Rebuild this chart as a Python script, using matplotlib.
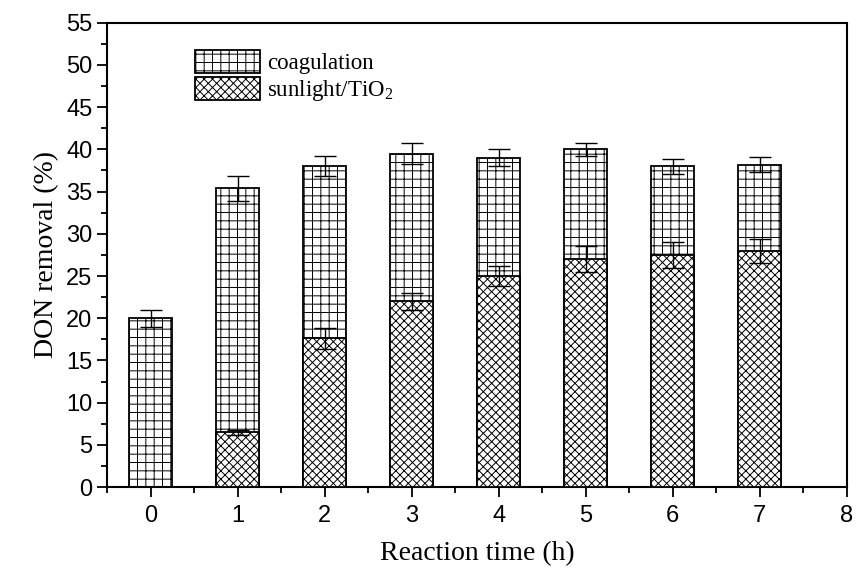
import numpy as np
import matplotlib
matplotlib.use("Agg")
import matplotlib.pyplot as plt
from matplotlib.ticker import MultipleLocator

# data
times = [0, 1, 2, 3, 4, 5, 6, 7]
coag_total = [20.0, 35.4, 38.0, 39.5, 39.0, 40.0, 38.0, 38.2]
coag_err = [1.0, 1.5, 1.2, 1.2, 1.0, 0.8, 0.9, 0.9]
sun = [0.0, 6.5, 17.6, 22.0, 25.0, 27.0, 27.5, 28.0]
sun_err = [0.0, 0.3, 1.3, 1.0, 1.2, 1.5, 1.5, 1.4]

plt.rcParams['font.family'] = 'Liberation Serif'
plt.rcParams['mathtext.fontset'] = 'custom'
plt.rcParams['mathtext.rm'] = 'Liberation Serif'
plt.rcParams['mathtext.it'] = 'Liberation Serif:italic'
plt.rcParams['hatch.linewidth'] = 0.7

fig = plt.figure(figsize=(8.57, 5.69), dpi=100)
ax = fig.add_axes([0.125, 0.144, 0.863, 0.816])

w = 0.5
ax.bar(times, coag_total, width=w, color='white', edgecolor='black',
       hatch='++', linewidth=1.3, label='coagulation', zorder=2)
ax.errorbar(times, coag_total, yerr=coag_err, fmt='none', ecolor='black',
            elinewidth=1.0, capsize=8, capthick=1.0, zorder=3)

sun_x = times[1:]
ax.bar(sun_x, sun[1:], width=w, color='white', edgecolor='black',
       hatch='xxxx', linewidth=1.3, label=r'sunlight/TiO$_2$', zorder=4)
ax.errorbar(sun_x, sun[1:], yerr=sun_err[1:], fmt='none', ecolor='black',
            elinewidth=1.0, capsize=8, capthick=1.0, zorder=5)

ax.set_xlim(-0.5, 8)
ax.set_ylim(0, 55)
ax.xaxis.set_major_locator(MultipleLocator(1))
ax.xaxis.set_minor_locator(MultipleLocator(0.5))
ax.yaxis.set_major_locator(MultipleLocator(5))
ax.yaxis.set_minor_locator(MultipleLocator(2.5))

ax.tick_params(which='both', direction='out', width=1.3, top=False, right=False)
ax.tick_params(which='major', length=7)
ax.tick_params(which='minor', length=4)
ax.tick_params(axis='x', which='major', pad=6)
for lab in ax.get_xticklabels() + ax.get_yticklabels():
    lab.set_fontfamily('Liberation Sans')
    lab.set_fontsize(17)
for s in ax.spines.values():
    s.set_linewidth(1.5)

ax.set_xlabel('Reaction time (h)', fontsize=20, labelpad=10)
ax.set_ylabel('DON removal (%)', fontsize=20, labelpad=5)

ax.legend(loc='upper left', bbox_to_anchor=(0.119, 0.942), frameon=False,
          fontsize=16.5, handlelength=2.85, handleheight=1.18,
          labelspacing=0.13, handletextpad=0.3, borderpad=0, borderaxespad=0)

fig.savefig('out.png', dpi=100)
